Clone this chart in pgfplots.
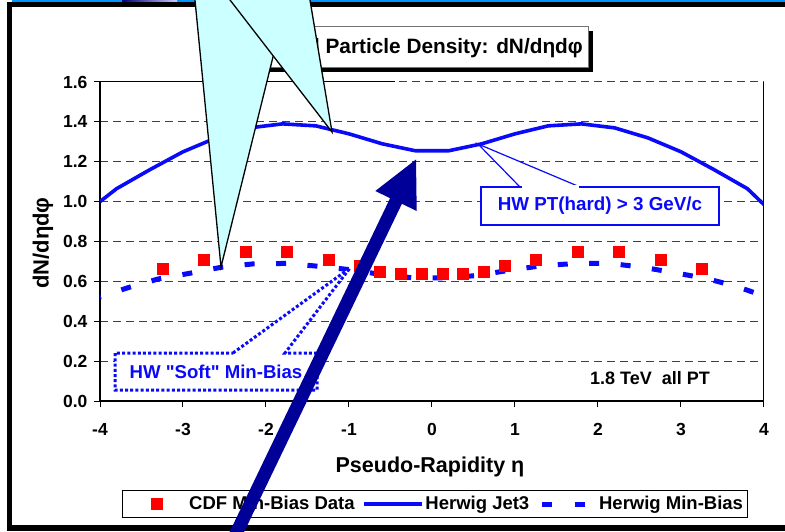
\documentclass[border=0pt]{standalone}
\usepackage{fontspec}
\setmainfont{Liberation Sans}
\newfontfamily\plainsans{Liberation Sans}[Ligatures=TeXOff]
\usepackage{pgfplots}
\usepackage{pgfplotstable}
\pgfplotsset{compat=1.18}

\definecolor{hwblue}{RGB}{10,10,250}
\definecolor{arrownavy}{RGB}{0,0,153}
\definecolor{calloutcyan}{RGB}{204,255,255}
\definecolor{slideblue}{RGB}{0,150,255}

% CDF min-bias data, charged particle density vs pseudo-rapidity
\pgfplotstableread{
eta    dens
-3.25  0.665
-2.75  0.710
-2.25  0.750
-1.75  0.750
-1.25  0.710
-0.875 0.680
-0.625 0.648
-0.375 0.640
-0.125 0.637
0.125  0.637
0.375  0.640
0.625  0.650
0.875  0.680
1.25   0.710
1.75   0.750
2.25   0.750
2.75   0.710
3.25   0.665
}\cdfdata

% Herwig Jet3, PT(hard) > 3 GeV/c
\pgfplotstableread{
eta   dens
-4.0  1.000
-3.8  1.065
-3.4  1.160
-3.0  1.250
-2.6  1.320
-2.2  1.370
-1.8  1.390
-1.4  1.380
-1.0  1.340
-0.6  1.290
-0.2  1.255
0.2   1.255
0.6   1.290
1.0   1.340
1.4   1.380
1.8   1.390
2.2   1.370
2.6   1.320
3.0   1.250
3.4   1.160
3.8   1.065
4.0   0.985
}\jetdata

% Herwig "soft" min-bias
\pgfplotstableread{
eta    dens
-4.0   0.522
-3.65  0.570
-3.3   0.612
-2.9   0.642
-2.55  0.670
-2.15  0.688
-1.75  0.690
-1.35  0.675
-0.95  0.657
-0.55  0.630
-0.2   0.617
0.2    0.617
0.55   0.630
0.95   0.657
1.35   0.680
1.75   0.690
2.15   0.690
2.55   0.670
2.9    0.645
3.3    0.615
3.65   0.577
4.0    0.527
}\mbdata

\begin{document}
\begin{tikzpicture}
\path[use as bounding box] (0pt,0pt) rectangle (785pt,531pt);
\fill[white] (0pt,0pt) rectangle (785pt,531pt);

\begin{axis}[
  at={(100pt,130pt)}, anchor=south west,
  scale only axis, width=664pt, height=319pt,
  xmin=-4, xmax=4, ymin=0, ymax=1.6,
  axis x line*=bottom, axis y line*=left,
  axis line style={black, line width=1.2pt},
  xtick={-4,-3,-2,-1,0,1,2,3,4},
  xticklabels={-4,-3,-2,-1,0,1,2,3,4},
  ytick={0,0.2,0.4,0.6,0.8,1.0,1.2,1.4,1.6},
  yticklabels={0.0,0.2,0.4,0.6,0.8,1.0,1.2,1.4,1.6},
  tick align=outside, major tick length=6pt,
  tick style={black, line width=1pt},
  ticklabel style={font=\fontsize{17.5}{18}\selectfont\bfseries},
  xticklabel style={yshift=-13pt},
  yticklabel style={xshift=-3pt},
  ymajorgrids,
  grid style={black!75, line width=1pt, dash pattern=on 7.5pt off 5.5pt},
  xlabel={Pseudo-Rapidity η},
  ylabel={dN/dηdφ},
  every axis x label/.style={at={(axis description cs:0.497,-0.2226)}, anchor=base,
    font=\fontsize{21.5}{22}\selectfont\bfseries},
  every axis y label/.style={at={(axis description cs:-0.0858,0.495)}, anchor=center, rotate=90,
    font=\fontsize{22}{24}\selectfont\bfseries},
  legend columns=3,
  legend cell align=left,
  legend style={at={(axis description cs:0.0331,-0.3229)}, anchor=west,
    draw=black, line width=0.8pt, fill=white,
    inner xsep=4.5pt, inner ysep=6pt,
    font=\fontsize{18.5}{20}\selectfont\bfseries,
    /tikz/column sep=0pt, nodes={inner sep=0pt}},
]
\addlegendimage{legend image code/.code={
  \path (0pt,-7pt) (61.5pt,7pt);
  \draw[only marks, mark=square*, mark size=5.5pt, mark options={draw=red, fill=red}]
    plot coordinates {(29.5pt,0pt)};}}
\addlegendentry{CDF Min-Bias Data}
\addlegendimage{legend image code/.code={
  \path (0pt,-7pt) (70pt,7pt);
  \draw[hwblue, line width=4pt] (9pt,0pt) -- (67pt,0pt);}}
\addlegendentry{Herwig Jet3}
\addlegendimage{legend image code/.code={
  \path (0pt,-7pt) (69pt,7pt);
  \draw[hwblue, line width=5pt, dash pattern=on 10pt off 23pt] (12pt,0pt) -- (55pt,0pt);}}
\addlegendentry{Herwig Min-Bias}

% solid stretch of the upper plot-area border
\draw[black, line width=1pt] (axis cs:-4,1.6) -- (axis cs:-0.45,1.6);

\addplot[forget plot, hwblue, line width=3.6pt, line join=round] table[x=eta, y=dens] {\jetdata};
\addplot[forget plot, hwblue, line width=5pt, dash pattern=on 10pt off 21.5pt, dash phase=9pt] table[x=eta, y=dens] {\mbdata};
\addplot[forget plot, only marks, mark=square*, mark size=5.5pt, mark options={draw=red, fill=red}] table[x=eta, y=dens] {\cdfdata};

\draw[black, line width=1.2pt] (rel axis cs:1,0) -- (rel axis cs:1,1);
\end{axis}

% slide furniture and annotations, in top-down coordinates
\begin{scope}[x=1pt, y=-1pt, shift={(0pt,531pt)}]
  % slide frame
  \fill[slideblue] (12,0) rectangle (785,2.5);
  \shade[left color=arrownavy!80!black, right color=blue!20!white] (122,0) rectangle (177,3);
  \fill[black] (7,2.5) rectangle (785,7);
  \fill[black] (7,2.5) rectangle (12,531);
  \fill[black] (7,525) rectangle (785,531);

  % chart title box with drop shadow
  \fill[black] (229,31) rectangle (593,72);
  \filldraw[fill=white, draw=black!55, line width=1pt] (205,27) rectangle (588,68);
  \node[anchor=base east, inner sep=0pt, font=\fontsize{20.8}{22}\selectfont\bfseries]
    at (583,53.5) {Charged Particle Density: dN/dηdφ};

  % "HW PT(hard) > 3 GeV/c" callout
  \filldraw[fill=white, draw=hwblue, line width=1.2pt] (520,187) -- (478,144) -- (580,187) -- cycle;
  \filldraw[fill=white, draw=hwblue, line width=1.3pt] (481,187) rectangle (719,225);
  \fill[white] (521.5,185.5) rectangle (578.5,188.5);
  \node[hwblue, inner sep=0pt, font=\fontsize{18.8}{20}\selectfont\bfseries]
    at (600,206) {HW PT(hard) > 3 GeV/c};

  % "HW Soft Min-Bias" callout, dotted
  \filldraw[fill=white, draw=hwblue, line width=3pt, dash pattern=on 3pt off 2.2pt]
    (233,353) -- (350,268) -- (285,353) -- (317,353) -- (317,390) -- (115,390) -- (115,353) -- cycle;
  \node[hwblue, inner sep=0pt, font=\plainsans\fontsize{18.6}{20}\selectfont\bfseries]
    at (216,372) {HW "Soft" Min-Bias};

  \node[black, inner sep=0pt, font=\fontsize{18}{20}\selectfont\bfseries]
    at (650,378) {1.8 TeV~ all PT};

  % cyan balloon callouts coming from above
  \filldraw[fill=calloutcyan, draw=black, line width=1.3pt, line join=miter]
    (194,-10) -- (221,267) -- (273,57) -- (290,-10) -- cycle;
  \filldraw[fill=calloutcyan, draw=black, line width=1.3pt, line join=miter]
    (222.3,-10) -- (332,132) -- (308.3,-10) -- cycle;

  % large navy arrow
  \fill[arrownavy] (225.4,540.7) -- (390.1,198.2) -- (375.3,191.0) -- (416,159.5)
    -- (416.7,211.0) -- (401.9,203.8) -- (237.2,546.3) -- cycle;
\end{scope}
\end{tikzpicture}
\end{document}
